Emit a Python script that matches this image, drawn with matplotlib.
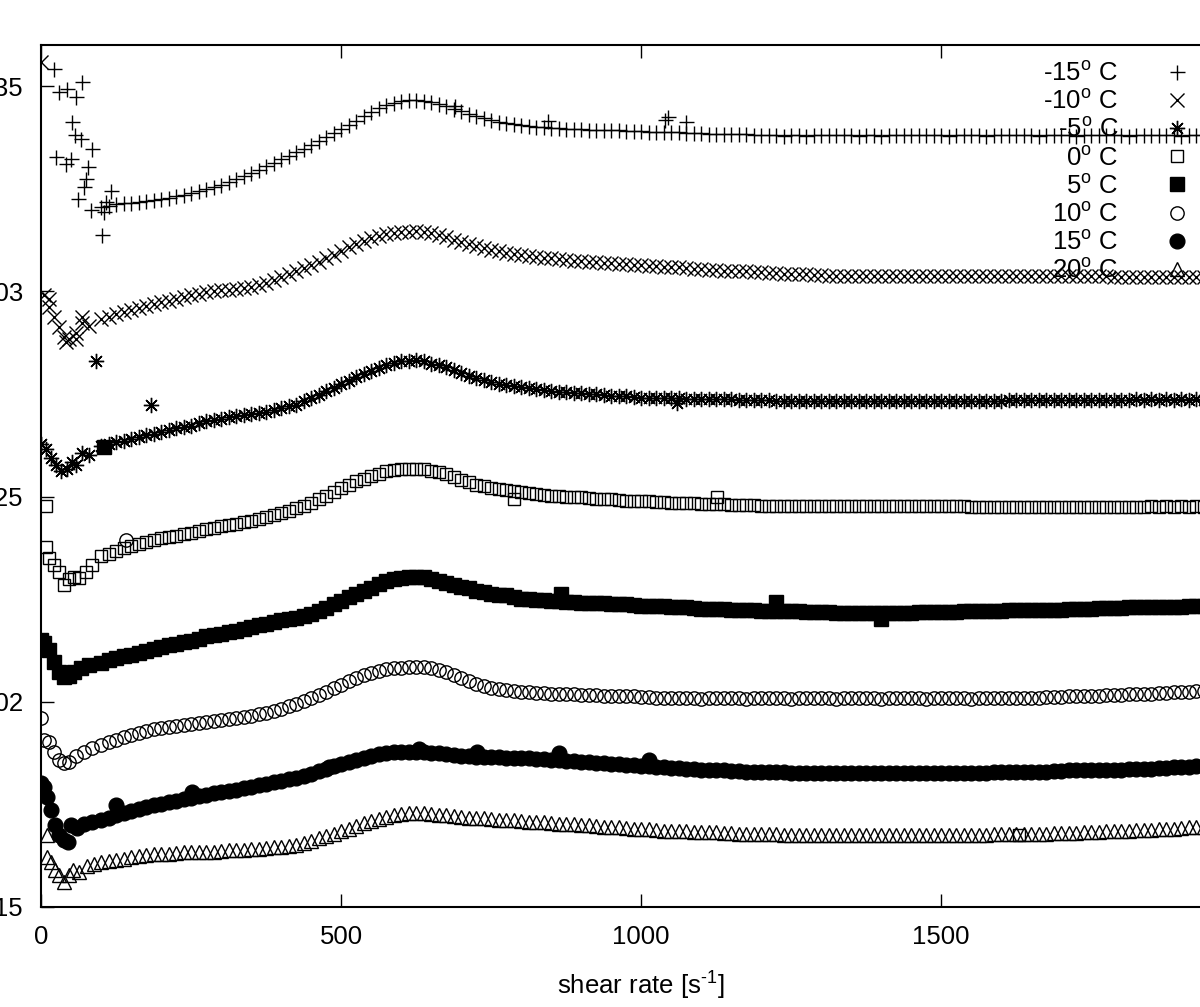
import numpy as np
import matplotlib
matplotlib.use("Agg")
import matplotlib.pyplot as plt

plt.rcParams['font.family'] = ['Liberation Sans', 'DejaVu Sans']
plt.rcParams['mathtext.fontset'] = 'custom'
plt.rcParams['mathtext.rm'] = 'Liberation Sans'
plt.rcParams['mathtext.it'] = 'Liberation Sans'
plt.rcParams['mathtext.default'] = 'regular'

# shear rates of the smooth part of every curve (readings every 25, plus the half steps)
x_grid = np.arange(100, 2001, 25)
x_mid = np.arange(112.5, 2000, 25)

# -15 C
m15_early_x = [22, 25, 30, 42, 43, 50, 52, 57, 58, 62, 67, 68, 72, 75, 78, 83, 85, 102, 105, 108, 117]
m15_early_y = [0.03541, 0.03327, 0.03485, 0.0331, 0.03493, 0.03322, 0.03412, 0.0338, 0.03473, 0.03224, 0.03371,
               0.0351, 0.03254, 0.03273, 0.03302, 0.03198, 0.03346, 0.03137, 0.03193, 0.03217, 0.03244]
m15_y = [0.03205, 0.03212, 0.03215, 0.0322, 0.03224, 0.03232, 0.03239, 0.03249, 0.03259, 0.03273, 0.03288,
         0.03305, 0.03322, 0.03339, 0.03356, 0.03376, 0.03395, 0.03415, 0.03437, 0.03454, 0.03463, 0.03466,
         0.03461, 0.03451, 0.03439, 0.03427, 0.03417, 0.0341, 0.03405, 0.03401, 0.03398, 0.03396, 0.03395,
         0.03394, 0.03393, 0.03391, 0.0339, 0.03389, 0.03388, 0.03386, 0.03385, 0.03384, 0.03383, 0.03382,
         0.0338, 0.03381, 0.0338, 0.03379, 0.0338, 0.0338, 0.03381, 0.0338, 0.03379, 0.0338, 0.0338,
         0.0338, 0.03381, 0.0338, 0.0338, 0.03379, 0.0338, 0.0338, 0.03381, 0.0338, 0.0338, 0.03379,
         0.0338, 0.0338, 0.0338, 0.03381, 0.0338, 0.0338, 0.03379, 0.0338, 0.0338, 0.0338, 0.0338]
m15_mid = [0.03208, 0.03214, 0.03217, 0.03222, 0.03228, 0.03235, 0.03244, 0.03254, 0.03266, 0.0328, 0.03296,
           0.03313, 0.0333, 0.03347, 0.03366, 0.03385, 0.03405, 0.03426, 0.03446, 0.03459, 0.03465, 0.03464,
           0.03456, 0.03445, 0.03433, 0.03422, 0.03413, 0.03407, 0.03403, 0.034, 0.03397, 0.03395, 0.03394,
           0.03393, 0.03392, 0.0339, 0.03389, 0.03388, 0.03387, 0.03385, 0.03384, 0.03383, 0.03382, 0.03381,
           0.0338, 0.03379, 0.0338, 0.03381, 0.0338, 0.0338, 0.03379, 0.0338, 0.03381, 0.0338, 0.0338,
           0.0338, 0.03379, 0.0338, 0.03381, 0.0338, 0.0338, 0.0338, 0.03379, 0.0338, 0.03381, 0.0338,
           0.0338, 0.0338, 0.03379, 0.0338, 0.0338, 0.03381, 0.0338, 0.0338, 0.0338, 0.0338]
m15_extra_x = [690, 845, 1040, 1045, 1075]
m15_extra_y = [0.03451, 0.03415, 0.03418, 0.03425, 0.03412]

# -10 C
m10_early_x = [0, 5, 13, 13, 22, 30, 38, 42, 47, 58, 58, 68, 68, 80]
m10_early_y = [0.03559, 0.0299, 0.02961, 0.0298, 0.02937, 0.02912, 0.02888, 0.02876, 0.02883, 0.02898,
               0.02883, 0.02922, 0.02937, 0.02915]
m10_y = [0.02932, 0.02944, 0.02954, 0.02963, 0.02973, 0.02981, 0.0299, 0.02998, 0.03002, 0.03005, 0.0301,
         0.0302, 0.03034, 0.03049, 0.03063, 0.0308, 0.03098, 0.03115, 0.03129, 0.03139, 0.03144, 0.03146,
         0.03141, 0.03132, 0.0312, 0.0311, 0.031, 0.03093, 0.03088, 0.03083, 0.0308, 0.03076, 0.03073,
         0.03071, 0.03068, 0.03066, 0.03063, 0.03061, 0.03059, 0.03056, 0.03054, 0.03051, 0.03049, 0.03049,
         0.03046, 0.03044, 0.03041, 0.03041, 0.03039, 0.03037, 0.03037, 0.03037, 0.03037, 0.03037, 0.03037,
         0.03037, 0.03037, 0.03037, 0.03037, 0.03037, 0.03037, 0.03037, 0.03037, 0.03037, 0.03037, 0.03037,
         0.03037, 0.03037, 0.03036, 0.03036, 0.03036, 0.03035, 0.03035, 0.03035, 0.03034, 0.03034, 0.03034]
m10_mid = [0.02938, 0.02949, 0.02959, 0.02968, 0.02977, 0.02986, 0.02994, 0.03, 0.03004, 0.03008, 0.03015,
           0.03027, 0.03042, 0.03056, 0.03072, 0.03089, 0.03107, 0.03122, 0.03134, 0.03142, 0.03145, 0.03144,
           0.03137, 0.03126, 0.03115, 0.03105, 0.03097, 0.03091, 0.03086, 0.03082, 0.03078, 0.03075, 0.03072,
           0.0307, 0.03067, 0.03065, 0.03062, 0.0306, 0.03058, 0.03055, 0.03053, 0.0305, 0.03049, 0.03048,
           0.03045, 0.03043, 0.03041, 0.0304, 0.03038, 0.03037, 0.03037, 0.03037, 0.03037, 0.03037, 0.03037,
           0.03037, 0.03037, 0.03037, 0.03037, 0.03037, 0.03037, 0.03037, 0.03037, 0.03037, 0.03037, 0.03037,
           0.03037, 0.03036, 0.03036, 0.03036, 0.03035, 0.03035, 0.03035, 0.03034, 0.03034, 0.03034]

# -5 C
m5_early_x = [0, 8, 17, 25, 33, 43, 52, 58, 68, 80, 92, 183, 1060]
m5_early_y = [0.02627, 0.02615, 0.02595, 0.02576, 0.02561, 0.02566, 0.02585, 0.02578, 0.02607, 0.02602,
              0.02829, 0.02724, 0.02729]
m5_y = [0.02622, 0.02632, 0.02639, 0.02649, 0.02656, 0.02666, 0.02673, 0.02683, 0.0269, 0.02695, 0.027,
        0.02705, 0.02715, 0.02724, 0.02739, 0.02756, 0.02773, 0.0279, 0.02805, 0.0282, 0.02829, 0.02832,
        0.02824, 0.02815, 0.028, 0.02788, 0.02778, 0.02771, 0.02766, 0.02761, 0.02756, 0.02754, 0.02751,
        0.02749, 0.02746, 0.02744, 0.02741, 0.0274, 0.02739, 0.02738, 0.02737, 0.02737, 0.02737, 0.02735,
        0.02734, 0.02733, 0.02732, 0.02732, 0.02732, 0.02732, 0.02732, 0.02732, 0.02732, 0.02732, 0.02732,
        0.02732, 0.02732, 0.02732, 0.02732, 0.02732, 0.02732, 0.02734, 0.02734, 0.02734, 0.02734, 0.02734,
        0.02734, 0.02734, 0.02734, 0.02737, 0.02737, 0.02737, 0.02737, 0.02737, 0.02737, 0.02737, 0.02737]
m5_mid = [0.02627, 0.02636, 0.02644, 0.02653, 0.02661, 0.0267, 0.02678, 0.02687, 0.02693, 0.02698, 0.02703,
          0.0271, 0.0272, 0.02732, 0.02748, 0.02765, 0.02782, 0.02798, 0.02813, 0.02825, 0.02831, 0.02829,
          0.0282, 0.02808, 0.02794, 0.02783, 0.02775, 0.02769, 0.02764, 0.02759, 0.02755, 0.02753, 0.0275,
          0.02748, 0.02745, 0.02743, 0.02741, 0.0274, 0.02739, 0.02738, 0.02737, 0.02737, 0.02736, 0.02735,
          0.02734, 0.02733, 0.02732, 0.02732, 0.02732, 0.02732, 0.02732, 0.02732, 0.02732, 0.02732, 0.02732,
          0.02732, 0.02732, 0.02732, 0.02732, 0.02732, 0.02734, 0.02734, 0.02734, 0.02734, 0.02734, 0.02734,
          0.02734, 0.02734, 0.02736, 0.02736, 0.02736, 0.02736, 0.02736, 0.02736, 0.02736, 0.02736]

# 0 C
p0_early_x = [8, 8, 13, 22, 30, 38, 47, 55, 63, 75, 85, 788, 1127, 1630]
p0_early_y = [0.02478, 0.02378, 0.02351, 0.02332, 0.02315, 0.02285, 0.02298, 0.02305, 0.02302, 0.02317,
              0.02332, 0.02493, 0.025, 0.01676]
p0_y = [0.02354, 0.02368, 0.0238, 0.0239, 0.02398, 0.02405, 0.02412, 0.0242, 0.02427, 0.02434, 0.02441,
        0.02449, 0.02459, 0.02471, 0.02485, 0.02502, 0.0252, 0.02537, 0.02549, 0.02561, 0.02566, 0.02568,
        0.02563, 0.02554, 0.02541, 0.02529, 0.0252, 0.02515, 0.0251, 0.02505, 0.02502, 0.025, 0.02498,
        0.02495, 0.02493, 0.0249, 0.02488, 0.02487, 0.02485, 0.02484, 0.02483, 0.02482, 0.0248, 0.02479,
        0.02478, 0.02477, 0.02476, 0.02476, 0.02476, 0.02476, 0.02476, 0.02476, 0.02476, 0.02476, 0.02476,
        0.02476, 0.02476, 0.02476, 0.02474, 0.02474, 0.02474, 0.02474, 0.02474, 0.02474, 0.02474, 0.02474,
        0.02474, 0.02474, 0.02474, 0.02474, 0.02476, 0.02476, 0.02476, 0.02476, 0.02476, 0.02476, 0.02476]
p0_mid = [0.02361, 0.02374, 0.02385, 0.02394, 0.02402, 0.02409, 0.02416, 0.02424, 0.02431, 0.02438, 0.02445,
          0.02454, 0.02465, 0.02478, 0.02494, 0.02511, 0.02529, 0.02543, 0.02555, 0.02564, 0.02567, 0.02566,
          0.02559, 0.02548, 0.02535, 0.02525, 0.02518, 0.02513, 0.02508, 0.02504, 0.02501, 0.02499, 0.02497,
          0.02494, 0.02492, 0.02489, 0.02488, 0.02486, 0.02485, 0.02484, 0.02483, 0.02481, 0.0248, 0.02479,
          0.02478, 0.02477, 0.02476, 0.02476, 0.02476, 0.02476, 0.02476, 0.02476, 0.02476, 0.02476, 0.02476,
          0.02476, 0.02476, 0.02476, 0.02474, 0.02474, 0.02474, 0.02474, 0.02474, 0.02474, 0.02474, 0.02474,
          0.02474, 0.02474, 0.02474, 0.02474, 0.02475, 0.02475, 0.02475, 0.02475, 0.02475, 0.02475]

# 5 C
p5_early_x = [0, 5, 13, 22, 30, 38, 47, 55, 67, 80, 105, 867, 1225, 1400]
p5_early_y = [0.02151, 0.02144, 0.02127, 0.02098, 0.02073, 0.02061, 0.02063, 0.02073, 0.02083, 0.0209,
              0.0262, 0.02263, 0.02244, 0.02202]
p5_y = [0.02095, 0.02107, 0.02115, 0.02124, 0.02134, 0.02141, 0.02149, 0.02159, 0.02166, 0.02173, 0.02183,
        0.0219, 0.02198, 0.02205, 0.02215, 0.02229, 0.02246, 0.02263, 0.02278, 0.02293, 0.02302, 0.02305,
        0.023, 0.0229, 0.0228, 0.02271, 0.02263, 0.02259, 0.02251, 0.02249, 0.02246, 0.02244, 0.02241,
        0.0224, 0.02239, 0.02237, 0.02234, 0.02233, 0.02232, 0.0223, 0.02227, 0.02226, 0.02224, 0.02223,
        0.02222, 0.02221, 0.0222, 0.02219, 0.02218, 0.02217, 0.02217, 0.02217, 0.02217, 0.02217, 0.02217,
        0.02218, 0.02218, 0.02219, 0.0222, 0.02221, 0.02222, 0.02223, 0.02224, 0.02224, 0.02224, 0.02226,
        0.02227, 0.02228, 0.02229, 0.0223, 0.02232, 0.02232, 0.02232, 0.02233, 0.02234, 0.02234, 0.02234]
p5_mid = [0.02101, 0.02111, 0.0212, 0.02129, 0.02138, 0.02145, 0.02154, 0.02163, 0.0217, 0.02178, 0.02187,
          0.02194, 0.02202, 0.0221, 0.02222, 0.02238, 0.02255, 0.02271, 0.02286, 0.02298, 0.02304, 0.02303,
          0.02295, 0.02285, 0.02276, 0.02267, 0.02261, 0.02255, 0.0225, 0.02248, 0.02245, 0.02243, 0.0224,
          0.0224, 0.02238, 0.02236, 0.02234, 0.02233, 0.02231, 0.02229, 0.02227, 0.02225, 0.02224, 0.02223,
          0.02222, 0.02221, 0.0222, 0.02219, 0.02218, 0.02217, 0.02217, 0.02217, 0.02217, 0.02217, 0.02218,
          0.02218, 0.02219, 0.0222, 0.02221, 0.02222, 0.02223, 0.02224, 0.02224, 0.02224, 0.02225, 0.02227,
          0.02228, 0.02229, 0.0223, 0.02231, 0.02232, 0.02232, 0.02233, 0.02234, 0.02234, 0.02234]

# 10 C
p10_early_x = [0, 5, 13, 22, 30, 38, 47, 58, 72, 85, 142]
p10_early_y = [0.01961, 0.01907, 0.01902, 0.01878, 0.01859, 0.01851, 0.01854, 0.01868, 0.01878, 0.01888,
               0.02395]
p10_y = [0.01895, 0.01907, 0.0192, 0.01929, 0.01937, 0.01941, 0.01946, 0.01951, 0.01956, 0.01961, 0.01966,
         0.01973, 0.01983, 0.01995, 0.0201, 0.02024, 0.02041, 0.02059, 0.02071, 0.0208, 0.02083, 0.02085,
         0.02083, 0.02073, 0.02059, 0.02044, 0.02034, 0.02029, 0.02024, 0.02022, 0.0202, 0.02019, 0.02017,
         0.02016, 0.02015, 0.02014, 0.02012, 0.0201, 0.02008, 0.0201, 0.02007, 0.0201, 0.02008, 0.02007,
         0.0201, 0.02008, 0.02007, 0.0201, 0.02008, 0.02007, 0.0201, 0.02008, 0.02007, 0.0201, 0.02008,
         0.02007, 0.0201, 0.02008, 0.02007, 0.0201, 0.0201, 0.0201, 0.0201, 0.02011, 0.02012, 0.02014,
         0.02015, 0.02016, 0.02017, 0.02019, 0.0202, 0.02022, 0.02024, 0.02025, 0.02027, 0.02028, 0.02029]
p10_mid = [0.01901, 0.01913, 0.01925, 0.01933, 0.01939, 0.01944, 0.01949, 0.01954, 0.01959, 0.01964, 0.0197,
           0.01978, 0.01989, 0.02002, 0.02017, 0.02033, 0.0205, 0.02065, 0.02076, 0.02082, 0.02084, 0.02084,
           0.02078, 0.02066, 0.02051, 0.02039, 0.02031, 0.02026, 0.02023, 0.02021, 0.0202, 0.02018, 0.02016,
           0.02015, 0.02014, 0.02013, 0.02011, 0.02009, 0.02008, 0.02009, 0.02008, 0.02009, 0.02008, 0.02009,
           0.02008, 0.02009, 0.02008, 0.02009, 0.02008, 0.02009, 0.02008, 0.02009, 0.02008, 0.02009, 0.02008,
           0.02009, 0.02008, 0.02009, 0.02008, 0.02009, 0.0201, 0.0201, 0.0201, 0.02011, 0.02013, 0.02014,
           0.02015, 0.02016, 0.02018, 0.02019, 0.02021, 0.02023, 0.02024, 0.02026, 0.02027, 0.02028]

# 15 C
p15_early_x = [0, 5, 10, 17, 23, 30, 38, 45, 50, 60, 72, 85, 125, 252, 480, 630, 727, 863, 1013]
p15_early_y = [0.01802, 0.01793, 0.01768, 0.01737, 0.017, 0.01676, 0.01663, 0.01659, 0.017, 0.01693,
               0.01702, 0.01707, 0.01749, 0.0178, 0.01841, 0.01885, 0.01878, 0.01876, 0.01859]
p15_y = [0.01712, 0.01724, 0.01734, 0.01744, 0.01751, 0.01759, 0.01766, 0.01773, 0.0178, 0.01785, 0.01793,
         0.018, 0.01807, 0.01815, 0.01824, 0.01837, 0.01849, 0.01859, 0.01868, 0.01876, 0.01878, 0.01878,
         0.01876, 0.01873, 0.01868, 0.01866, 0.01866, 0.01863, 0.01863, 0.01861, 0.01859, 0.01856, 0.01854,
         0.01851, 0.01849, 0.01846, 0.01844, 0.01841, 0.01839, 0.01836, 0.01834, 0.01833, 0.01832, 0.0183,
         0.01829, 0.01828, 0.01827, 0.01827, 0.01827, 0.01827, 0.01827, 0.01827, 0.01827, 0.01827, 0.01827,
         0.01827, 0.01827, 0.01827, 0.01827, 0.01827, 0.01829, 0.01829, 0.01829, 0.0183, 0.01832, 0.01833,
         0.01834, 0.01834, 0.01834, 0.01836, 0.01837, 0.01839, 0.01841, 0.01843, 0.01844, 0.01845, 0.01846]
p15_mid = [0.01718, 0.01729, 0.01739, 0.01748, 0.01755, 0.01763, 0.0177, 0.01777, 0.01783, 0.01789, 0.01797,
           0.01804, 0.01811, 0.0182, 0.01831, 0.01843, 0.01854, 0.01864, 0.01872, 0.01877, 0.01878, 0.01877,
           0.01875, 0.01871, 0.01867, 0.01866, 0.01865, 0.01863, 0.01862, 0.0186, 0.01858, 0.01855, 0.01853,
           0.0185, 0.01848, 0.01845, 0.01843, 0.0184, 0.01838, 0.01835, 0.01834, 0.01833, 0.01831, 0.0183,
           0.01829, 0.01828, 0.01827, 0.01827, 0.01827, 0.01827, 0.01827, 0.01827, 0.01827, 0.01827, 0.01827,
           0.01827, 0.01827, 0.01827, 0.01827, 0.01828, 0.01829, 0.01829, 0.0183, 0.01831, 0.01833, 0.01834,
           0.01834, 0.01834, 0.01835, 0.01837, 0.01838, 0.0184, 0.01842, 0.01844, 0.01845, 0.01846]

# 20 C
p20_early_x = [10, 10, 17, 23, 30, 38, 47, 53, 63, 77, 88]
p20_early_y = [0.01676, 0.01622, 0.0161, 0.0159, 0.01578, 0.01561, 0.01578, 0.0159, 0.01585, 0.016, 0.01605]
p20_y = [0.0161, 0.01615, 0.01622, 0.01627, 0.01629, 0.01632, 0.01634, 0.01634, 0.01637, 0.01639, 0.01641,
         0.01644, 0.01646, 0.01651, 0.01661, 0.01673, 0.01685, 0.01698, 0.0171, 0.0172, 0.01727, 0.01729,
         0.01727, 0.01724, 0.0172, 0.01717, 0.01715, 0.01712, 0.0171, 0.01707, 0.01705, 0.01702, 0.017,
         0.01698, 0.01695, 0.01693, 0.0169, 0.01688, 0.01685, 0.01684, 0.01683, 0.01682, 0.0168, 0.01679,
         0.01678, 0.01677, 0.01676, 0.01676, 0.01676, 0.01676, 0.01676, 0.01676, 0.01676, 0.01676, 0.01676,
         0.01676, 0.01676, 0.01676, 0.01676, 0.01676, 0.01678, 0.01678, 0.01678, 0.01679, 0.0168, 0.01681,
         0.01683, 0.01684, 0.01685, 0.01687, 0.01688, 0.0169, 0.01693, 0.01695, 0.01698, 0.01699, 0.017]
p20_mid = [0.01612, 0.01618, 0.01624, 0.01628, 0.0163, 0.01633, 0.01634, 0.01635, 0.01638, 0.0164, 0.01642,
           0.01645, 0.01648, 0.01656, 0.01667, 0.01679, 0.01691, 0.01704, 0.01715, 0.01723, 0.01728, 0.01728,
           0.01725, 0.01722, 0.01718, 0.01716, 0.01713, 0.01711, 0.01708, 0.01706, 0.01703, 0.01701, 0.01699,
           0.01696, 0.01694, 0.01691, 0.01689, 0.01686, 0.01684, 0.01683, 0.01682, 0.01681, 0.01679, 0.01678,
           0.01677, 0.01676, 0.01676, 0.01676, 0.01676, 0.01676, 0.01676, 0.01676, 0.01676, 0.01676, 0.01676,
           0.01676, 0.01676, 0.01676, 0.01676, 0.01677, 0.01678, 0.01678, 0.01679, 0.0168, 0.01681, 0.01682,
           0.01683, 0.01685, 0.01686, 0.01687, 0.01689, 0.01691, 0.01694, 0.01696, 0.01698, 0.01699]

labels = ['-15$^{o}$ C', '-10$^{o}$ C', '-5$^{o}$ C', '0$^{o}$ C',
          '5$^{o}$ C', '10$^{o}$ C', '15$^{o}$ C', '20$^{o}$ C']
y_ticks = [0.015, 0.02, 0.025, 0.03, 0.035]
y_tick_labels = ['0.015', '0.02', '0.025', '0.03', '0.035']
x_ticks = [0, 500, 1000, 1500, 2000]

grid = list(x_grid) + list(x_mid)
series = [
    (m15_early_x + grid + m15_extra_x, m15_early_y + m15_y + m15_mid + m15_extra_y, '+', 10.8, False),
    (m10_early_x + grid, m10_early_y + m10_y + m10_mid, 'x', 10.0, False),
    (m5_early_x + grid, m5_early_y + m5_y + m5_mid, (8, 2, 0), 11.0, False),
    (p0_early_x + grid, p0_early_y + p0_y + p0_mid, 's', 8.8, False),
    (p5_early_x + grid, p5_early_y + p5_y + p5_mid, 's', 9.8, True),
    (p10_early_x + grid, p10_early_y + p10_y + p10_mid, 'o', 9.6, False),
    (p15_early_x + grid, p15_early_y + p15_y + p15_mid, 'o', 10.6, True),
    (p20_early_x + grid, p20_early_y + p20_y + p20_mid, '^', 9.6, False),
]

fig = plt.figure(figsize=(12, 10.07), dpi=100)
ax = fig.add_axes([41 / 1200, 100 / 1007, 1200 / 1200, 862 / 1007])

for (xs, ys, mk, ms, filled), lab in zip(series, labels):
    ax.plot(xs, ys, linestyle='none', marker=mk, markersize=ms,
            markerfacecolor='black' if filled else 'none',
            markeredgecolor='black', markeredgewidth=1.0, color='black', label=lab, zorder=2)

ax.set_xlim(0, 2000)
ax.set_ylim(0.015, 0.036)
ax.set_xticks(x_ticks)
ax.set_yticks(y_ticks)
ax.set_yticklabels(y_tick_labels)
ax.tick_params(direction='in', length=9.5, width=1, top=True, right=True,
               labelsize=18.5, pad=13)
for sp in ax.spines.values():
    sp.set_linewidth(1.5)
ax.set_xlabel('shear rate [s$^{\\text{-}1}$]', fontsize=18.5, labelpad=15)

leg = ax.legend(loc='upper right', bbox_to_anchor=(1190 / 1200, 1 - 62 / 1007),
                bbox_transform=fig.transFigure, frameon=False, markerfirst=False,
                fontsize=18.5, handlelength=1.0, handletextpad=1.8, labelspacing=0.16,
                borderpad=0, borderaxespad=0)
leg.set_zorder(1)

fig.savefig('out.png', dpi=100)
